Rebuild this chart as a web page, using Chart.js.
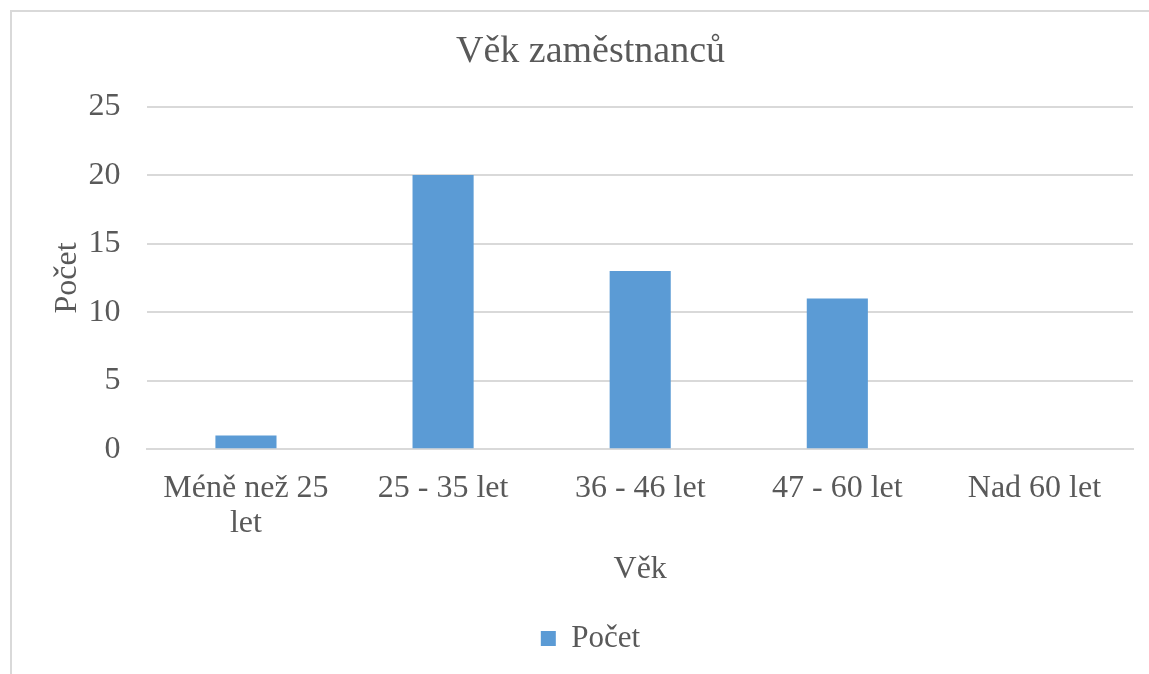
<!DOCTYPE html>
<html>
<head>
<meta charset="utf-8">
<script src="https://cdn.jsdelivr.net/npm/chart.js@4"></script>
<style>
  html, body { margin: 0; padding: 0; overflow: hidden; background: #fff; }
  #frame { position: absolute; left: 10px; top: 10px; width: 1200px; height: 720px; border: 2px solid #D9D9D9; }
  #wrap { position: absolute; left: 0; top: 0; width: 1149px; height: 674px; }
</style>
</head>
<body>
<div id="frame"></div>
<div id="wrap"><canvas id="ageChart"></canvas></div>
<script>
// age groups and counts
const categories = [['Méně než 25', 'let'], '25 - 35 let', '36 - 46 let', '47 - 60 let', 'Nad 60 let'];
const counts = [1, 20, 13, 11, 0];
const yTicks = [0, 5, 10, 15, 20, 25];

const textColor = '#595959';
const gridColor = '#D9D9D9';
const serif = "'Liberation Serif', 'Times New Roman', serif";

const ctx = document.getElementById('ageChart').getContext('2d');
new Chart(ctx, {
    type: 'bar',
    data: {
        labels: categories,
        datasets: [{
            label: 'Počet',
            data: counts,
            backgroundColor: '#5B9BD5',
            categoryPercentage: 1,
            barPercentage: 0.31
        }]
    },
    options: {
        responsive: true,
        maintainAspectRatio: false,
        animation: false,
        layout: { padding: { left: 48, right: 16, top: 20, bottom: 10 } },
        plugins: {
            title: {
                display: true,
                text: 'Věk zaměstnanců',
                color: textColor,
                font: { family: serif, size: 38, weight: 'normal' },
                padding: { top: 9, bottom: 32 }
            },
            legend: {
                position: 'bottom',
                labels: {
                    color: textColor,
                    font: { family: serif, size: 31 },
                    boxWidth: 15,
                    boxHeight: 15,
                    padding: 10
                }
            },
            tooltip: { enabled: false }
        },
        scales: {
            x: {
                grid: { display: false, drawTicks: false },
                border: { display: true, color: gridColor, width: 2 },
                ticks: {
                    color: textColor,
                    font: { family: serif, size: 32, lineHeight: 1.1 },
                    padding: 22,
                    maxRotation: 0
                },
                title: {
                    display: true,
                    text: 'Věk',
                    color: textColor,
                    font: { family: serif, size: 32 },
                    padding: { top: -13, bottom: 24 }
                }
            },
            y: {
                min: 0,
                max: 25,
                afterBuildTicks: axis => { axis.ticks = yTicks.map(v => ({ value: v })); },
                grid: { color: gridColor, lineWidth: 2, drawTicks: false },
                border: { display: false },
                ticks: {
                    color: textColor,
                    font: { family: serif, size: 32 },
                    padding: 27
                },
                title: {
                    display: true,
                    text: 'Počet',
                    color: textColor,
                    font: { family: serif, size: 32 },
                    padding: { top: 0, bottom: -25 }
                }
            }
        }
    }
});
</script>
</body>
</html>
